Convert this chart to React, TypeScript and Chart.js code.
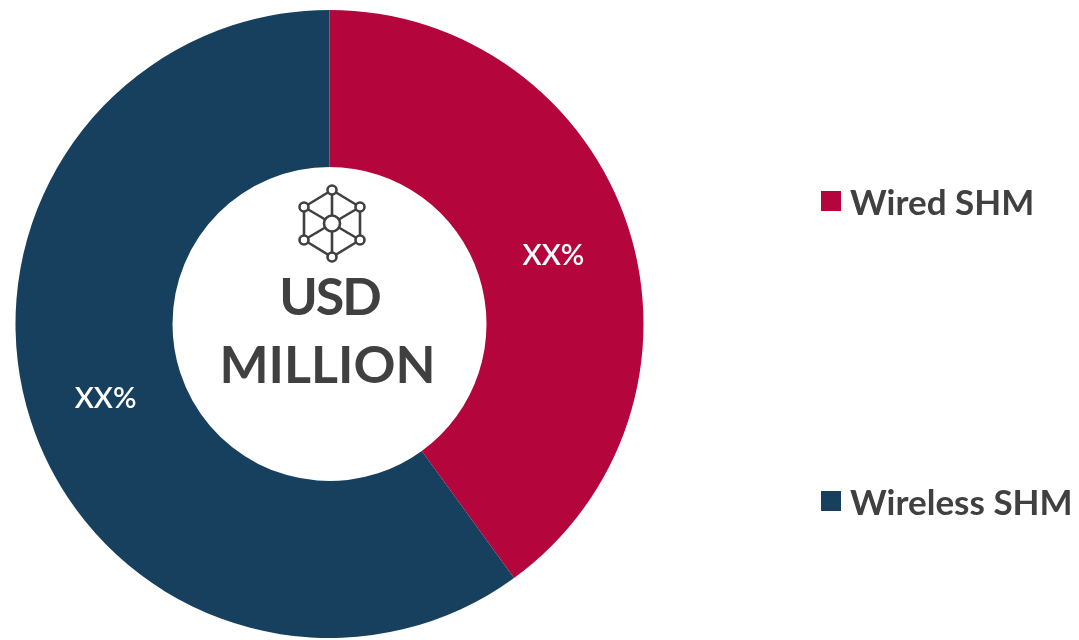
import React, { useEffect, useRef } from "react";
import { Chart, registerables } from "chart.js";

Chart.register(...registerables);

const categories = ["Wired SHM", "Wireless SHM"];
const shares = [40, 60];
const sliceLabels = ["XX%", "XX%"];
const colors = ["#B4053C", "#17405F"];
const centerLines = ["USD", "MILLION"];
const FONT = "Lato, 'Open Sans', sans-serif";

const nodes: [number, number][] = [[332, 190], [360, 207], [360, 240], [332, 257], [304, 240], [304, 207]];

const labelPlugin = {
  id: "labels",
  afterDatasetsDraw(chart: any) {
    const { ctx } = chart;
    const meta = chart.getDatasetMeta(0);
    ctx.save();
    ctx.textAlign = "center";
    ctx.textBaseline = "middle";
    ctx.fillStyle = "#FFFFFF";
    ctx.font = `600 29px ${FONT}`;
    meta.data.forEach((arc: any, i: number) => {
      const mid = (arc.startAngle + arc.endAngle) / 2;
      const r = (arc.innerRadius + arc.outerRadius) / 2;
      const shift = i === 0 ? [0, 4] : [0, 2];
      ctx.fillText(sliceLabels[i], arc.x + Math.cos(mid) * r + shift[0], arc.y + Math.sin(mid) * r + shift[1]);
    });
    const cx = meta.data[0].x;
    ctx.fillStyle = "#404040";
    ctx.font = `700 52px ${FONT}`;
    (ctx as any).letterSpacing = "-2px";
    ctx.fillText(centerLines[0], cx, 298);
    (ctx as any).letterSpacing = "0px";
    ctx.fillText(centerLines[1], cx - 2, 366);
    ctx.restore();
  },
};

export default function App() {
  const ref = useRef<HTMLCanvasElement>(null);
  useEffect(() => {
    document.body.style.margin = "0";
    document.body.style.background = "#fff";
    const chart = new Chart(ref.current!, {
      type: "doughnut",
      data: {
        labels: categories,
        datasets: [{ data: shares, backgroundColor: colors, borderWidth: 0 }],
      },
      options: {
        animation: false,
        responsive: false,
        cutout: "50%",
        layout: { padding: { left: 0, top: 10, right: 420, bottom: 2 } },
        plugins: { legend: { display: false }, tooltip: { enabled: false } },
      },
      plugins: [labelPlugin],
    });
    return () => chart.destroy();
  }, []);
  const legendTop = [186, 486];
  return (
    <div style={{ position: "relative", width: 1079, height: 640, overflow: "hidden" }}>
      <canvas ref={ref} width={1079} height={640} style={{ display: "block" }} />
      <svg width={1079} height={640} style={{ position: "absolute", left: 0, top: 0, pointerEvents: "none" }}>
        <g stroke="#404040" strokeWidth={2.6} fill="#fff">
          {nodes.map((n, i) => {
            const m = nodes[(i + 1) % nodes.length];
            return <line key={"e" + i} x1={n[0]} y1={n[1]} x2={m[0]} y2={m[1]} />;
          })}
          {nodes.map((n, i) => <line key={"s" + i} x1={n[0]} y1={n[1]} x2={332} y2={223.5} />)}
          {nodes.map((n, i) => <circle key={"c" + i} cx={n[0]} cy={n[1]} r={4.5} />)}
          <circle cx={332} cy={223.5} r={8} />
        </g>
      </svg>
      {categories.map((c, i) => (
        <div key={c} style={{ position: "absolute", left: 821, top: legendTop[i], height: 30, display: "flex", alignItems: "center", font: `700 35px ${FONT}`, color: "#404040", whiteSpace: "nowrap" }}>
          <span style={{ display: "inline-block", width: 20, height: 20, background: colors[i], marginRight: 9 }} />
          {c}
        </div>
      ))}
    </div>
  );
}
